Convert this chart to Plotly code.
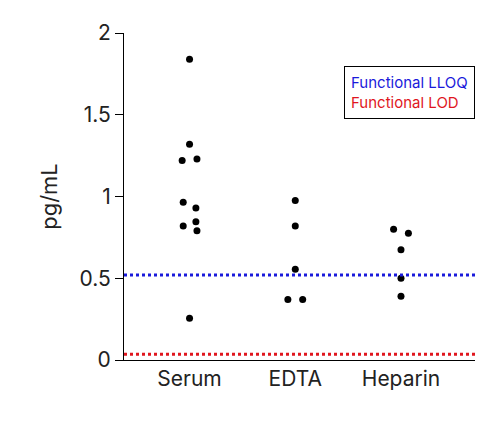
import plotly.graph_objects as go

groups = ["Serum", "EDTA", "Heparin"]
serum = [1.84, 1.32, 1.22, 1.23, 0.965, 0.93, 0.82, 0.845, 0.79, 0.255]
serum_jit = [0, 0, -0.07, 0.07, -0.06, 0.06, -0.06, 0.06, 0.07, 0]
edta = [0.975, 0.82, 0.555, 0.37, 0.37]
edta_jit = [0, 0, 0, -0.07, 0.07]
heparin = [0.80, 0.775, 0.675, 0.50, 0.39]
heparin_jit = [-0.07, 0.07, 0, 0, 0]
lloq = 0.52
lod = 0.035

fig = go.Figure()
for i, (vals, jit) in enumerate([(serum, serum_jit), (edta, edta_jit), (heparin, heparin_jit)]):
    fig.add_trace(go.Scatter(x=[i + j for j in jit], y=vals, mode="markers",
                             marker=dict(color="black", size=7), showlegend=False))

fig.add_trace(go.Scatter(x=[-0.62, 2.7], y=[lloq, lloq], mode="lines",
                         line=dict(color="#1a1adb", width=3, dash="dot"), showlegend=False))
fig.add_trace(go.Scatter(x=[-0.62, 2.7], y=[lod, lod], mode="lines",
                         line=dict(color="#e0161e", width=3, dash="dot"), showlegend=False))

fig.add_annotation(xref="paper", yref="paper", x=1.0, y=0.9, xanchor="right", yanchor="top",
                   text="<span style='color:#1a1adb'>Functional LLOQ</span><br><span style='color:#e0161e'>Functional LOD</span>",
                   showarrow=False, align="left", bordercolor="black", borderwidth=1, borderpad=6,
                   font=dict(size=15))

fig.update_xaxes(range=[-0.62, 2.7], tickvals=[0, 1, 2], ticktext=groups, showgrid=False,
                 zeroline=False, showline=True, linecolor="black", ticks="",
                 tickfont=dict(size=21, color="#222"))
fig.update_yaxes(range=[0, 2], tickvals=[0, 0.5, 1, 1.5, 2], ticktext=["0", "0.5", "1", "1.5", "2"],
                 showgrid=False, zeroline=False, showline=True, linecolor="black",
                 ticks="outside", ticklen=8, tickcolor="black", title=dict(text="pg/mL", font=dict(size=22)),
                 tickfont=dict(size=21, color="#222"))
fig.update_layout(width=485, height=429, plot_bgcolor="white", paper_bgcolor="white",
                  font=dict(family="Inter", color="#222"),
                  margin=dict(l=116, r=18, t=14, b=77))
fig.write_html("out.html")
